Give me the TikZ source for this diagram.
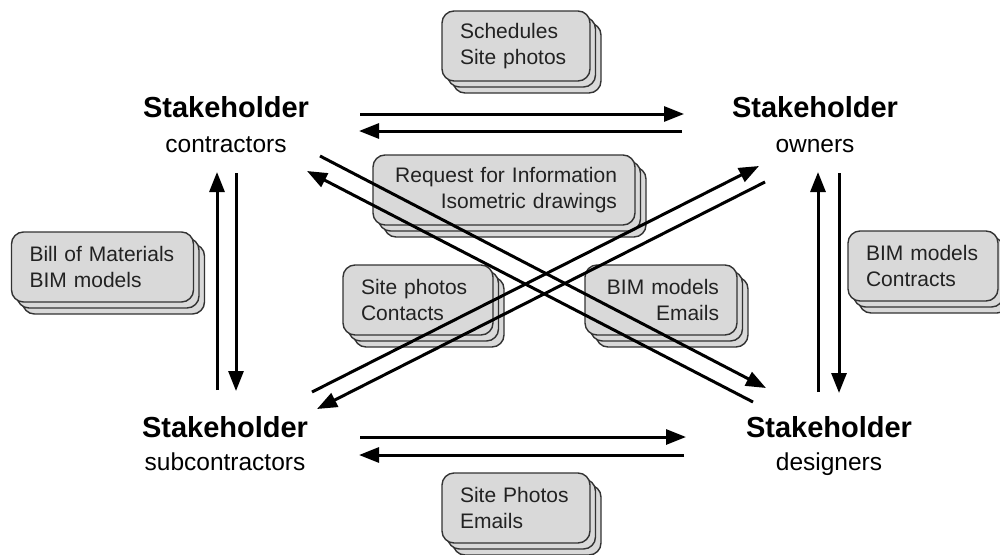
\documentclass[tikz,border=0pt]{standalone}
\usepackage{fontspec}
\setmainfont{Liberation Sans}
\usetikzlibrary{arrows.meta,shadows}
\definecolor{cardfill}{HTML}{D9D9D9}
\definecolor{cardline}{HTML}{333333}
\definecolor{cardtext}{HTML}{222222}

\begin{document}
\begin{tikzpicture}[x=1pt,y=-1pt,
  cardpath/.style={draw=cardline, fill=cardfill, line width=1.4pt},
  card/.style={cardpath, rounded corners=12pt, inner xsep=18pt, inner ysep=0pt,
    minimum height=70pt, text=cardtext, font=\fontsize{21}{26}\selectfont,
    copy shadow={shadow xshift=11pt, shadow yshift=-12pt, cardpath},
    copy shadow={shadow xshift=5.5pt, shadow yshift=-6pt, cardpath}},
  title/.style={anchor=base, inner sep=0pt, font=\fontsize{29}{34}\selectfont\bfseries},
  role/.style={anchor=base, inner sep=0pt, font=\fontsize{24.5}{30}\selectfont},
  flow/.style={line width=3pt, -{Triangle[length=20pt, width=15pt]}}]
\useasboundingbox (0,0) rectangle (1000,554);

% stacked document cards
\node[card, text width=112pt, align=left]  (sched)  at (516,46)   {Schedules\\Site photos};
\node[card, text width=226pt, align=right] (rfi)    at (504,190)  {Request for Information\\Isometric drawings};
\node[card, text width=146pt, align=left]  (bom)    at (102.5,267) {Bill of Materials\\BIM models};
\node[card, text width=114pt, align=left]  (photos) at (418,300)  {Site photos\\Contacts};
\node[card, text width=116pt, align=right] (bimem)  at (661,300)  {BIM models\\Emails};
\node[card, text width=112pt, align=left]  (sitem)  at (516,508)  {Site Photos\\Emails};
\node[card, text width=114pt, align=left]  (bimct)  at (923,266)  {BIM models\\Contracts};

% stakeholders
\node[title] (contrT) at (226,117) {Stakeholder};
\node[role]  (contrR) at (226,152) {contractors};
\node[title] (ownT)   at (815,117) {Stakeholder};
\node[role]  (ownR)   at (815,152) {owners};
\node[title] (subT)   at (225,437) {Stakeholder};
\node[role]  (subR)   at (225,470) {subcontractors};
\node[title] (desT)   at (829,437) {Stakeholder};
\node[role]  (desR)   at (829,470) {designers};

% connector end points
\coordinate (ctA) at (360,114);  \coordinate (owA) at (684,114);
\coordinate (owB) at (682,131);  \coordinate (ctB) at (359,131);
\coordinate (sbA) at (360,437);  \coordinate (dsA) at (686,437);
\coordinate (dsB) at (684,455);  \coordinate (sbB) at (359,455);
\coordinate (ctU) at (217,172);  \coordinate (sbU) at (217,390);
\coordinate (ctD) at (236,173);  \coordinate (sbD) at (236,391);
\coordinate (owU) at (818,172);  \coordinate (dsU) at (818,392);
\coordinate (owD) at (839,173);  \coordinate (dsD) at (839,393);
\coordinate (ctX) at (320,156);  \coordinate (dsX) at (766,388);
\coordinate (dsY) at (753,402);  \coordinate (ctY) at (307,171);
\coordinate (sbX) at (312,392);  \coordinate (owX) at (759,166);
\coordinate (owY) at (765,182);  \coordinate (sbY) at (317,409);

% connectors
\draw[flow] (ctA) -- (owA);
\draw[flow] (owB) -- (ctB);
\draw[flow] (sbA) -- (dsA);
\draw[flow] (dsB) -- (sbB);
\draw[flow] (sbU) -- (ctU);
\draw[flow] (ctD) -- (sbD);
\draw[flow] (dsU) -- (owU);
\draw[flow] (owD) -- (dsD);
\draw[flow] (ctX) -- (dsX);
\draw[flow] (dsY) -- (ctY);
\draw[flow] (sbX) -- (owX);
\draw[flow] (owY) -- (sbY);
\end{tikzpicture}
\end{document}
